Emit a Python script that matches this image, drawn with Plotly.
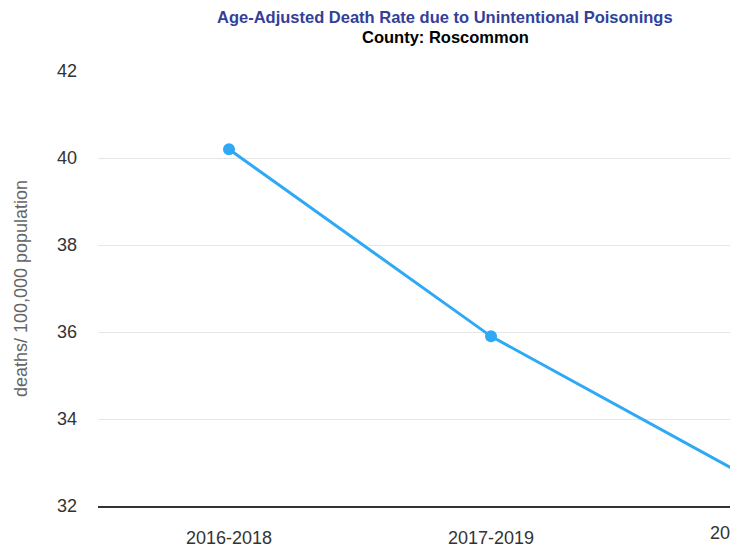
import plotly.graph_objects as go

# data
periods = ["2016-2018", "2017-2019", "2018-2020"]
rates = [40.2, 35.9, 32.6]

title_text = "Age-Adjusted Death Rate due to Unintentional Poisonings"
subtitle_text = "County: Roscommon"
y_title = "deaths/ 100,000 population"

x_range = [-0.5, 1.912]
line_color = "#2ea9f6"
font_family = "Liberation Sans, Arial, sans-serif"

fig = go.Figure()

fig.add_trace(go.Scatter(
    x=periods,
    y=rates,
    mode="lines+markers",
    line=dict(color=line_color, width=3),
    marker=dict(color=line_color, size=12),
    showlegend=False,
))

# last period sits past the clipped right edge, only its start shows
last_pos = (len(periods) - 1 - x_range[0]) / (x_range[1] - x_range[0])
title_x = (437 - 90) / 632

# page body keeps its default 8px margin, so sizes are shrunk by that
fig.update_layout(
    width=722,
    height=542,
    margin=dict(l=90, r=0, t=63, b=44),
    paper_bgcolor="white",
    plot_bgcolor="white",
    font=dict(family=font_family, color="#333333"),
    xaxis=dict(
        type="category",
        range=x_range,
        showgrid=False,
        showline=True,
        linecolor="#333333",
        linewidth=1.5,
        ticks="",
        tickfont=dict(size=18, color="#333333"),
        ticklabelstandoff=15,
    ),
    yaxis=dict(
        range=[32, 42],
        dtick=2,
        showgrid=True,
        gridcolor="#e6e6e6",
        gridwidth=1,
        zeroline=False,
        showline=False,
        tickfont=dict(size=18, color="#333333"),
        ticklabelstandoff=20,
        title=dict(text=y_title, font=dict(size=18, color="#666666"), standoff=24),
    ),
    annotations=[
        dict(text="<b>" + title_text + "</b>", xref="paper", yref="paper",
             x=title_x, y=1, yshift=54, showarrow=False,
             xanchor="center", yanchor="middle",
             font=dict(size=16.5, color="#333f99")),
        dict(text="<b>" + subtitle_text + "</b>", xref="paper", yref="paper",
             x=title_x, y=1, yshift=34, showarrow=False,
             xanchor="center", yanchor="middle",
             font=dict(size=16.5, color="#000000")),
        dict(text=periods[-1], xref="paper", yref="paper",
             x=last_pos, y=0, yshift=-15, showarrow=False,
             xanchor="center", yanchor="top",
             font=dict(size=18, color="#333333")),
    ],
)

fig.write_html("out.html")
